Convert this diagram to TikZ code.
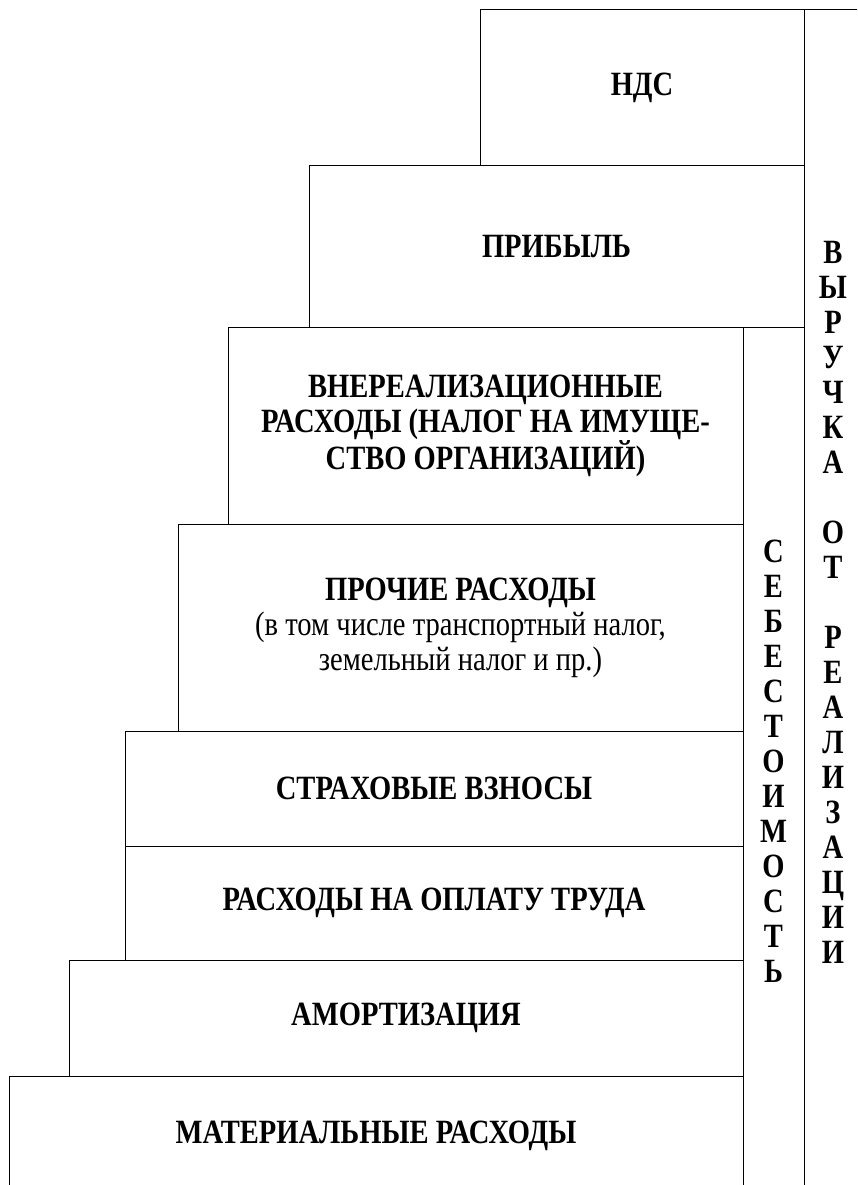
\documentclass[tikz,border=0pt]{standalone}
\usepackage{fontspec}
\setmainfont{Liberation Serif}[FakeStretch=0.84]
\begin{document}
\begin{tikzpicture}[x=1pt,y=-1pt]

      \useasboundingbox (0,0) rectangle (857,1185);
      \clip (0,0) rectangle (857,1185);

      \begin{scope}[every node/.style={draw,rectangle,inner sep=0pt,line width=1pt,
          align=center,font=\fontsize{34}{35}\selectfont\bfseries}]
        \node[minimum width=58pt,minimum height=1185pt]  (v) at (833,602.5) {В\\Ы\\Р\\У\\Ч\\К\\А\\[35pt]О\\Т\\[35pt]Р\\Е\\А\\Л\\И\\З\\А\\Ц\\И\\И};
        \node[minimum width=61pt,minimum height=868pt]   (s) at (773.5,761) {С\\Е\\Б\\Е\\С\\Т\\О\\И\\М\\О\\С\\Т\\Ь};
        \node[minimum width=324pt,minimum height=156pt]  (1) at (642,88)      {НДС};
        \node[minimum width=495pt,minimum height=161pt]  (2) at (556.5,246.5) {ПРИБЫЛЬ};
        \node[minimum width=515pt,minimum height=197pt]  (3) at (485.5,425.5) {ВНЕРЕАЛИЗАЦИОННЫЕ\\РАСХОДЫ (НАЛОГ НА ИМУЩЕ-\\СТВО ОРГАНИЗАЦИЙ)};
        \node[minimum width=565pt,minimum height=207pt]  (4) at (460.5,627.5) {ПРОЧИЕ РАСХОДЫ\\{\mdseries (в том числе транспортный налог,}\\{\mdseries земельный налог и пр.)}};
        \node[minimum width=618pt,minimum height=115pt]  (5) at (434,788.5)   {СТРАХОВЫЕ ВЗНОСЫ};
        \node[minimum width=618pt,minimum height=114pt]  (6) at (434,903)     {РАСХОДЫ НА ОПЛАТУ ТРУДА};
        \node[minimum width=674pt,minimum height=116pt]  (7) at (406,1018)    {АМОРТИЗАЦИЯ};
        \node[minimum width=734pt,minimum height=119pt]  (8) at (376,1135.5)  {МАТЕРИАЛЬНЫЕ РАСХОДЫ};
      \end{scope}

    \end{tikzpicture}
\end{document}
